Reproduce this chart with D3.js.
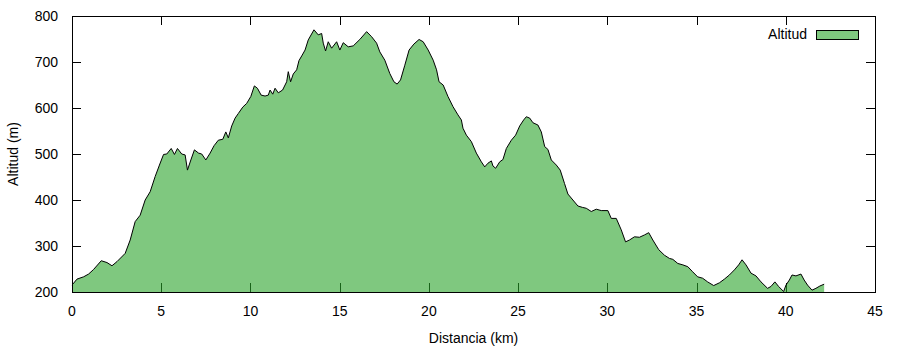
<!DOCTYPE html>
<html>
<head>
<meta charset="utf-8">
<script src="https://cdn.jsdelivr.net/npm/d3@7"></script>
<style>
  body { margin: 0; background: #fff; }
  text { font-family: "Liberation Sans", Arial, sans-serif; font-size: 14px; fill: #000; }
</style>
</head>
<body>
<svg id="perfil"></svg>
<script>
var distancia = [0.0, 0.28, 0.65, 0.93, 1.21, 1.64, 1.96, 2.24, 2.52, 2.98, 3.26, 3.54, 3.82, 4.10, 4.38, 4.66, 4.90, 5.13, 5.31, 5.56, 5.74, 5.91, 6.15, 6.34, 6.47, 6.66, 6.86, 7.09, 7.27, 7.50, 7.74, 7.96, 8.20, 8.45, 8.62, 8.76, 8.95, 9.14, 9.32, 9.57, 9.79, 10.02, 10.22, 10.39, 10.60, 10.82, 11.00, 11.10, 11.25, 11.38, 11.56, 11.80, 12.03, 12.12, 12.25, 12.40, 12.59, 12.72, 12.90, 13.06, 13.24, 13.56, 13.80, 13.99, 14.08, 14.21, 14.36, 14.55, 14.83, 15.01, 15.20, 15.48, 15.76, 16.13, 16.51, 16.79, 17.07, 17.25, 17.53, 17.81, 18.04, 18.22, 18.41, 18.65, 18.89, 19.16, 19.45, 19.68, 19.96, 20.24, 20.43, 20.57, 20.80, 21.07, 21.35, 21.63, 21.82, 21.91, 22.10, 22.38, 22.66, 22.94, 23.13, 23.31, 23.50, 23.59, 23.74, 23.97, 24.15, 24.34, 24.62, 24.86, 25.09, 25.31, 25.46, 25.65, 25.83, 26.11, 26.30, 26.49, 26.67, 26.86, 27.14, 27.36, 27.60, 27.79, 28.07, 28.35, 28.60, 28.82, 29.10, 29.38, 29.66, 30.03, 30.22, 30.50, 30.78, 31.02, 31.24, 31.52, 31.80, 32.08, 32.32, 32.55, 32.88, 33.20, 33.48, 33.67, 33.95, 34.23, 34.51, 34.78, 35.06, 35.34, 35.62, 35.96, 36.28, 36.56, 36.84, 37.12, 37.36, 37.55, 37.77, 38.05, 38.33, 38.61, 38.98, 39.17, 39.39, 39.60, 39.88, 40.01, 40.20, 40.35, 40.57, 40.85, 41.03, 41.22, 41.47, 41.69, 41.91, 42.15];
var altitud = [215, 228, 233, 239, 249, 268, 264, 257, 266, 284, 313, 353, 367, 400, 418, 451, 476, 499, 500, 512, 499, 512, 500, 498, 465, 487, 509, 502, 500, 487, 502, 518, 530, 532, 548, 535, 561, 578, 588, 602, 610, 625, 648, 643, 628, 626, 628, 639, 630, 643, 633, 639, 657, 679, 657, 674, 683, 703, 715, 726, 748, 770, 759, 762, 741, 724, 744, 730, 744, 726, 742, 733, 735, 749, 766, 755, 741, 722, 704, 675, 657, 652, 661, 693, 726, 739, 749, 744, 726, 704, 683, 657, 650, 625, 603, 585, 574, 556, 541, 527, 502, 483, 472, 480, 485, 474, 469, 483, 488, 512, 530, 541, 561, 574, 581, 578, 568, 563, 548, 516, 510, 487, 476, 465, 436, 413, 400, 387, 384, 382, 375, 380, 377, 377, 360, 360, 335, 309, 313, 320, 319, 324, 329, 313, 292, 280, 273, 271, 262, 259, 255, 244, 233, 230, 222, 214, 220, 228, 237, 248, 259, 270, 259, 241, 235, 222, 208, 212, 222, 212, 201, 215, 226, 237, 235, 239, 226, 215, 204, 208, 213, 217];
var xTicks = [0, 5, 10, 15, 20, 25, 30, 35, 40, 45];
var yTicks = [200, 300, 400, 500, 600, 700, 800];

var datos = distancia.map((d, i) => ({ km: d, alt: altitud[i] }));

var outerWidth = 900;
var outerHeight = 350;
var margin = { top: 16, left: 72, right: 25, bottom: 58 };
var width = outerWidth - margin.left - margin.right;
var height = outerHeight - margin.top - margin.bottom;
var tickLen = 9;

var svg = d3.select("#perfil").attr("width", outerWidth).attr("height", outerHeight);
var cg = svg.append("g").attr("transform", `translate(${margin.left},${margin.top})`);

var x = d3.scaleLinear().domain([0, 45]).range([0, width]);
var y = d3.scaleLinear().domain([200, 800]).range([height, 0]);

// ticks hacia dentro en los cuatro lados
var ticks = cg.append("g").attr("stroke", "#000").attr("stroke-width", 1);
xTicks.forEach((t) => {
  var px = Math.round(x(t)) + 0.5;
  ticks.append("line").attr("x1", px).attr("x2", px).attr("y1", height).attr("y2", height - tickLen);
  ticks.append("line").attr("x1", px).attr("x2", px).attr("y1", 0).attr("y2", tickLen);
});
yTicks.forEach((t) => {
  var py = Math.round(y(t)) + 0.5;
  ticks.append("line").attr("x1", 0).attr("x2", tickLen).attr("y1", py).attr("y2", py);
  ticks.append("line").attr("x1", width).attr("x2", width - tickLen).attr("y1", py).attr("y2", py);
});

// area del perfil
var area = d3.area().x((d) => x(d.km)).y0(y(200)).y1((d) => y(d.alt));
var line = d3.line().x((d) => x(d.km)).y((d) => y(d.alt));

cg.append("path")
  .datum(datos)
  .attr("d", area)
  .attr("fill", "rgb(42,163,42)")
  .attr("fill-opacity", 0.6);

cg.append("path")
  .datum(datos)
  .attr("d", line)
  .attr("fill", "none")
  .attr("stroke", "#000")
  .attr("stroke-width", 1);

// marco
cg.append("rect")
  .attr("x", 0.5).attr("y", 0.5)
  .attr("width", width).attr("height", height)
  .attr("fill", "none")
  .attr("stroke", "#000")
  .attr("stroke-width", 1);

// etiquetas de ticks
cg.append("g").selectAll("text").data(xTicks).enter().append("text")
  .attr("x", (d) => x(d))
  .attr("y", height + 24)
  .attr("text-anchor", "middle")
  .text((d) => d);

cg.append("g").selectAll("text").data(yTicks).enter().append("text")
  .attr("x", -14)
  .attr("y", (d) => y(d) + 5)
  .attr("text-anchor", "end")
  .text((d) => d);

// titulos de ejes
svg.append("text")
  .attr("text-anchor", "middle")
  .attr("transform", `translate(${margin.left + width / 2},${margin.top + height + 51})`)
  .text("Distancia (km)");

svg.append("text")
  .attr("text-anchor", "middle")
  .attr("transform", `translate(18,${margin.top + height / 2}) rotate(-90)`)
  .text("Altitud (m)");

// leyenda
var legend = cg.append("g").attr("class", "legend");
legend.append("text")
  .attr("x", 735)
  .attr("y", 23)
  .attr("text-anchor", "end")
  .text("Altitud");
legend.append("rect")
  .attr("x", 744.5).attr("y", 14.5)
  .attr("width", 42).attr("height", 9)
  .attr("fill", "rgb(42,163,42)")
  .attr("fill-opacity", 0.6)
  .attr("stroke", "#000");
</script>
</body>
</html>
